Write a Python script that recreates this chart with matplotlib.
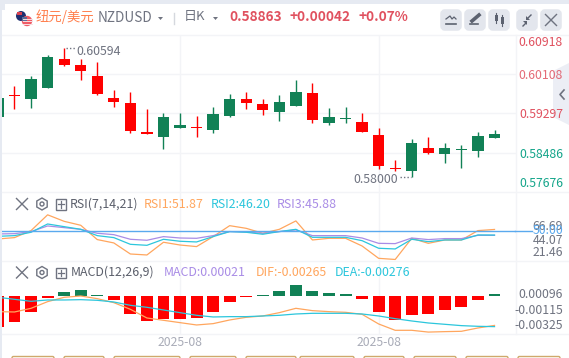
import matplotlib
matplotlib.use("Agg")
import matplotlib.pyplot as plt
from matplotlib.patches import Circle, FancyBboxPatch, Polygon, Rectangle
import numpy as np

plt.rcParams['font.family'] = ['Noto Sans CJK SC', 'DejaVu Sans']

# ---------- data ----------
candle_index = list(range(-1, 30))
candle_open = [0.59229,0.59670,0.59594,0.59822,0.60422,0.60297,0.60070,0.59615,0.59511,0.58912,0.58808,0.58994,0.59015,0.58953,0.59243,0.59594,0.59491,0.59325,0.59449,0.59718,0.59098,0.59187,0.59118,0.58849,0.58160,0.58105,0.58581,0.58457,0.58546,0.58519,0.58787]
candle_close = [0.59608,0.59656,0.60008,0.60463,0.60297,0.60173,0.59698,0.59532,0.58932,0.58870,0.59222,0.59056,0.59001,0.59284,0.59594,0.59511,0.59367,0.59532,0.59739,0.59160,0.59222,0.59201,0.58912,0.58208,0.58146,0.58684,0.58477,0.58581,0.58560,0.58829,0.58863]
candle_high = [0.59608,0.59863,0.60070,0.60504,0.60642,0.60422,0.60360,0.59780,0.59739,0.59387,0.59305,0.59305,0.59243,0.59429,0.59698,0.59739,0.59594,0.59677,0.59987,0.59925,0.59408,0.59429,0.59305,0.58994,0.58332,0.58767,0.58808,0.58684,0.58643,0.58912,0.58953]
candle_low = [0.59229,0.59387,0.59408,0.59822,0.60277,0.59987,0.59677,0.59429,0.58891,0.58870,0.58560,0.58994,0.58808,0.58891,0.59222,0.59387,0.59263,0.59139,0.59449,0.59098,0.59056,0.59098,0.58912,0.58146,0.58105,0.57981,0.58457,0.58270,0.58167,0.58394,0.58787]

rsi1 = [42.2,43.6,50.7,66.69,60.1,56.1,41.6,38.2,27.0,26.0,38.9,36.1,34.5,44.6,55.7,53.0,48.0,52.0,60.5,41.2,42.9,42.9,35.1,22.6,21.46,42.9,37.8,41.2,41.2,50.7,51.87]
rsi2 = [44.9,45.6,49.0,57.4,54.7,52.0,45.6,43.6,36.8,35.8,41.9,39.9,39.2,44.6,49.7,49.0,47.0,49.7,52.0,43.9,43.9,43.9,40.5,32.8,32.1,41.9,39.5,41.2,41.2,46.3,46.20]
rsi3 = [47.3,47.6,49.7,55.4,53.7,52.0,48.0,46.6,41.9,40.9,44.6,43.2,42.9,45.6,49.7,49.3,48.0,49.7,51.4,45.6,45.6,45.6,43.2,37.8,37.5,43.2,41.6,42.6,42.6,45.9,45.88]

macd_hist = [-0.00276,-0.00234,-0.00144,-0.00018,0.00036,0.00054,0.00006,-0.00039,-0.00162,-0.00225,-0.00207,-0.00207,-0.00198,-0.00144,-0.00054,-0.00009,0.00006,0.00045,0.00096,0.00045,0.00027,0.00018,-0.00027,-0.00144,-0.00216,-0.00171,-0.00162,-0.00126,-0.00099,-0.00036,0.00021]
dif = [-0.00141,-0.00144,-0.00111,-0.00051,-0.00012,0.0,-0.00024,-0.00060,-0.00120,-0.00198,-0.00219,-0.00240,-0.00261,-0.00249,-0.00216,-0.00192,-0.00180,-0.00150,-0.00111,-0.00132,-0.00141,-0.00147,-0.00165,-0.00252,-0.00309,-0.00309,-0.00325,-0.00321,-0.00318,-0.00288,-0.00265]
dea = [-0.00012,-0.00030,-0.00048,-0.00036,-0.00036,-0.00033,-0.00039,-0.00054,-0.00084,-0.00102,-0.00126,-0.00150,-0.00174,-0.00189,-0.00186,-0.00186,-0.00180,-0.00174,-0.00162,-0.00156,-0.00156,-0.00156,-0.00162,-0.00180,-0.00204,-0.00225,-0.00243,-0.00255,-0.00267,-0.00273,-0.00276]

price_ticks = [0.60918, 0.60108, 0.59297, 0.58486, 0.57676]
price_labels = ["0.60918", "0.60108", "0.59297", "0.58486", "0.57676"]
date_index = [10, 22]
date_labels = ["2025-08", "2025-08"]

# ---------- layout ----------
W, H = 569, 358
RED, GREEN = "#ff0000", "#118156"
GRID = "#f3f4f7"
ORANGE, CYAN, PURPLE, BLUE = "#ffa65e", "#2cc6dc", "#a98ce6", "#5aa9ee"
GREY = "#6f7380"
fig = plt.figure(figsize=(W/100, H/100), dpi=100, facecolor="white")

def panel(top, bottom):
    ax = fig.add_axes([2/W, 1-bottom/H, (515.7-2)/W, (bottom-top)/H], facecolor="none")
    ax.set_xlim(-0.755, 30.28)
    ax.set_xticks([]); ax.set_yticks([])
    for s in ax.spines.values():
        s.set_visible(False)
    for d in date_index:
        ax.axvline(d, color=GRID, lw=1, zorder=0)
    return ax

ov = fig.add_axes([0, 0, 1, 1], zorder=-1)
ov.set_xlim(0, W); ov.set_ylim(H, 0); ov.axis("off")
top = fig.add_axes([0, 0, 1, 1], zorder=10, facecolor="none")
top.set_xlim(0, W); top.set_ylim(H, 0); top.axis("off")

# page chrome
ov.add_patch(Rectangle((0, 0), W, H, color="#e6eaf2", lw=0))
ov.add_patch(Rectangle((2, 10), W, H, color="white", lw=0))
ov.add_patch(Rectangle((5, 3.5), W, 10, color="white", lw=0))
for y in (35, 192.3, 261, 334.3):
    ov.plot([2, W], [y, y], color=GRID, lw=1)
ov.plot([515.7, 515.7], [35, 334.3], color=GRID, lw=1)
ov.add_patch(Polygon([(569, 63), (553, 71), (553, 117), (569, 125)], fc="#eceef5", ec="none"))
top.plot([564, 560, 564], [90, 94.5, 99], color=GREY, lw=1.2)

# header
top.add_patch(Circle((21, 16), 5, fc="#1f2f70", ec="none"))
top.add_patch(Rectangle((17, 11.5), 5, 3, fc="#d9414f", ec="none"))
top.add_patch(Circle((27, 21), 5.2, fc="#ef5b66", ec="none"))
for yy in (18.5, 21, 23.5):
    top.plot([22.6, 31.6], [yy, yy], color="#f7dfe0", lw=0.7)
top.add_patch(Rectangle((22.5, 16.5), 4.5, 4, fc="#5c6d97", ec="none"))

def t(x, y, s, color=GREY, size=9, ha="left", weight="normal", alpha=1):
    top.text(x, y, s, color=color, fontsize=size, ha=ha, va="center", fontweight=weight, alpha=alpha)

t(36, 17, "纽元/美元", "#ff7f4d", 9.6)
t(98, 18.5, "NZDUSD", GREY, 9.8)
top.add_patch(Polygon([(158, 17), (163, 17), (160.5, 20)], fc=GREY, ec="none"))
top.plot([174, 174], [13, 24], color="#d5d8de", lw=1)
t(184, 16.5, "日K", GREY, 9.4)
top.add_patch(Polygon([(213, 17), (218, 17), (215.5, 20)], fc=GREY, ec="none"))
t(229, 17, "0.58863", "#e0515f", 9.8, weight="bold")
t(289.5, 17, "+0.00042", "#e0515f", 9.8, weight="bold")
t(359, 17, "+0.07%", "#e0515f", 9.8, weight="bold")
for x0 in (441, 465, 489, 517, 541):
    top.add_patch(FancyBboxPatch((x0+2, 12), 16, 16, boxstyle="round,pad=0,rounding_size=2",
                                 fc="#e3e6ed", ec="#e3e6ed", lw=4))
ic = "#5c6270"
top.plot([446, 450, 452, 454, 456], [19, 16, 19, 17, 19], color=ic, lw=0.9)
top.plot([446, 456], [23.5, 23.5], color=ic, lw=1.2)
top.plot([470, 478], [23.5, 23.5], color=ic, lw=1.2)
top.plot([472, 479], [21, 15], color=ic, lw=2.6)
top.add_patch(Rectangle((495, 15), 3, 6, fc=ic, ec="none"))
top.add_patch(Rectangle((501, 17), 3, 7, fc=ic, ec="none"))
top.plot([496.5, 496.5], [13, 23], color=ic, lw=0.8)
top.plot([502.5, 502.5], [15, 26], color=ic, lw=0.8)
top.plot([523, 526], [26, 23], color=ic, lw=1)
top.plot([528, 531], [18, 15], color=ic, lw=1)
top.add_patch(Polygon([(523.5, 20.5), (527.5, 20.5), (527.5, 24.5)], fc=ic, ec="none"))
top.add_patch(Polygon([(526, 15.5), (526, 19.5), (530, 19.5)], fc=ic, ec="none"))
top.plot([545.5, 556.5], [14.5, 25.5], color=GREY, lw=1)
top.plot([556.5, 545.5], [14.5, 25.5], color=GREY, lw=1)

# main candle panel
ax1 = panel(35, 191.7)
ax1.set_ylim(0.57676, 0.60918)
for p in price_ticks[1:4]:
    ax1.axhline(p, color=GRID, lw=1, zorder=0)
for i, o, c, h, l in zip(candle_index, candle_open, candle_close, candle_high, candle_low):
    col = GREEN if c >= o else RED
    ax1.vlines(i, l, h, color=col, lw=1, zorder=2)
    lo, hi = min(o, c), max(o, c)
    ax1.bar(i, hi-lo, bottom=lo, width=0.68, color=col, lw=0, zorder=3)

label_y = [42.5, 75.5, 114.5, 154.5, 183.5]
label_col = ["#e0515f", "#e0515f", "#e0515f", "#14a58a", "#14a58a"]
for y, s, c in zip(label_y, price_labels, label_col):
    t(563, y, s, c, 8.8, ha="right", alpha=0.85 if s == "0.60108" else 1)
t(76, 51.5, "0.60594", GREY, 8.9)
top.plot([66, 75], [48, 48], color=GREY, lw=1, ls=(0, (1, 1.5)))
t(353, 179.5, "0.58000", GREY, 8.9)
top.plot([400, 411], [176.5, 176.5], color=GREY, lw=1, ls=(0, (1, 1.5)))

# RSI panel
ax2 = panel(192.3, 261)
ax2.set_ylim(19.9, 89.5)
ax2.plot(candle_index, rsi1, color=ORANGE, lw=0.9, zorder=3)
ax2.plot(candle_index, rsi3, color=PURPLE, lw=0.9, zorder=3)
ax2.plot(candle_index, rsi2, color=CYAN, lw=0.9, zorder=3)
ax2.axhline(50, color=BLUE, lw=1, zorder=4)
ov.plot([515, 532], [231.3, 231.3], color=BLUE, lw=1)

def iconrow(y):
    top.plot([16.5, 27.5], [y-5.5, y+5.5], color=GREY, lw=1)
    top.plot([27.5, 16.5], [y-5.5, y+5.5], color=GREY, lw=1)
    a = np.deg2rad(np.arange(30, 390, 60))
    top.add_patch(Polygon(np.c_[42+6*np.cos(a), y+6*np.sin(a)], fc="none", ec=GREY, lw=1))
    top.add_patch(Circle((42, y), 2, fc="none", ec=GREY, lw=1))
    top.add_patch(Rectangle((56, y-5), 10.5, 10.5, fc="none", ec=GREY, lw=1))
    top.plot([58, 64.5], [y+0.3, y+0.3], color=GREY, lw=0.9)
    top.plot([61.2, 61.2], [y-3, y+3.5], color=GREY, lw=0.9)

iconrow(204)
t(70, 204, "RSI(7,14,21)", "#5b5f6b", 8.9)
t(144, 204, "RSI1:51.87", ORANGE, 8.9)
t(211, 204, "RSI2:46.20", CYAN, 8.9)
t(277, 204, "RSI3:45.88", PURPLE, 8.9)
t(563, 226, "66.69", GREY, 8.8, ha="right")
t(563, 240, "44.07", GREY, 8.8, ha="right")
t(563, 252.5, "21.46", GREY, 8.8, ha="right")
t(563, 231, "50.00", BLUE, 8.8, ha="right")

# MACD panel
ax3 = panel(261, 334.3)
ax3.set_ylim(-0.00345, 0.00315)
ax3.bar(candle_index, macd_hist, width=0.72, lw=0, zorder=2,
        color=[GREEN if v >= 0 else RED for v in macd_hist])
ax3.plot(candle_index, dif, color=ORANGE, lw=0.9, zorder=3)
ax3.plot(candle_index, dea, color=CYAN, lw=0.9, zorder=3)

iconrow(272.5)
t(71, 272.5, "MACD(12,26,9)", "#5b5f6b", 8.9)
t(164, 272.5, "MACD:0.00021", PURPLE, 8.9)
t(256, 272.5, "DIF:-0.00265", ORANGE, 8.9)
t(335, 272.5, "DEA:-0.00276", CYAN, 8.9)
t(563, 294.5, "0.00096", GREY, 8.8, ha="right")
t(563, 310.5, "-0.00115", GREY, 8.8, ha="right")
t(563, 325.5, "-0.00325", GREY, 8.8, ha="right")

# date labels
x_px = lambda i: 14.5 + 16.55*i
for d, s in zip(date_index, date_labels):
    t(x_px(d), 342.5, s, "#a9acb8", 8.8, ha="center")

# button row peeking at the bottom edge
for a, b in [(12, 54), (64, 104), (114, 180), (190, 236), (246, 296),
             (300, 354), (364, 404), (414, 456), (466, 508), (518, 560)]:
    top.add_patch(FancyBboxPatch((a, 356.5), b-a, 6, boxstyle="round,pad=0,rounding_size=1.5",
                                 fc="white", ec="#cfa96b", lw=1))

fig.savefig("out.png", dpi=100)
